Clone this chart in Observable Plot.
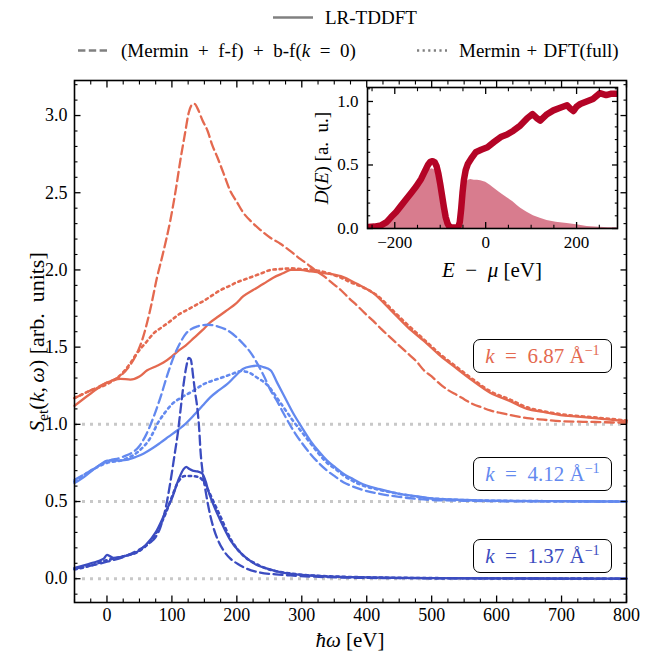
<!DOCTYPE html>
<html>
<head>
<meta charset="utf-8">
<script src="https://cdn.jsdelivr.net/npm/d3@7"></script>
<script src="https://cdn.jsdelivr.net/npm/@observablehq/plot@0.6"></script>
<style>
  body { margin: 0; background: #fff; }
  #wrap { position: relative; width: 653px; height: 654px; font-family: "Liberation Serif", "DejaVu Serif", serif; color: #000; overflow: hidden; }
  .abs { position: absolute; white-space: nowrap; line-height: 1; }
  .leg { display: flex; align-items: center; transform: translateY(-50%); font-size: 19px; }
  .leg svg { display: block; }
  .box { box-sizing: border-box; border: 1.5px solid #000; border-radius: 7px; background: #fff; display: flex; align-items: center; justify-content: center; font-size: 21px; }
  sup { font-size: 0.68em; vertical-align: 0.55em; line-height: 0; }
  sub { font-size: 0.7em; vertical-align: -0.25em; line-height: 0; }
  .rot { transform: translate(-50%, -50%) rotate(-90deg); }
  .ctr { transform: translate(-50%, -50%); }
</style>
</head>
<body>
<div id="wrap"></div>
<script>
// ---------------- data ----------------
// k = 1.37 Å^-1 (offset 0.0)
const k137_lr_x = [-50,-25,-5,0,5,10,20,30,45,60,75,90,100,110,118,122,127,132,139,147,152,156,163,170,180,190,203,216,230,247,265,287,310,339,370,400,450,500,600,700,800];
const k137_lr_y = [0.07,0.10,0.13,0.155,0.145,0.135,0.14,0.15,0.17,0.22,0.30,0.43,0.52,0.64,0.71,0.725,0.71,0.70,0.695,0.68,0.63,0.57,0.49,0.42,0.33,0.25,0.18,0.13,0.09,0.065,0.045,0.03,0.022,0.015,0.011,0.009,0.006,0.004,0.002,0.001,0.0];
const k137_mff_x = [-50,-25,0,25,50,65,75,82,90,98,104,109,114,118,122,126,129,133,136,139,142,144,147,151,157,164,172,180,190,201,215,236,260,287,320,360,400,500,600,800];
const k137_mff_y = [0.065,0.085,0.11,0.14,0.19,0.23,0.27,0.33,0.45,0.635,0.80,0.94,1.12,1.26,1.37,1.43,1.42,1.30,1.20,1.11,0.97,0.83,0.70,0.59,0.45,0.33,0.24,0.18,0.13,0.097,0.065,0.04,0.028,0.02,0.013,0.008,0.005,0.003,0.002,0.0];
const k137_dft_x = [-50,-25,0,10,25,50,75,90,100,110,120,130,140,147,155,165,175,190,210,230,250,280,320,360,400,500,600,800];
const k137_dft_y = [0.06,0.085,0.12,0.13,0.145,0.18,0.29,0.42,0.53,0.63,0.665,0.665,0.66,0.64,0.58,0.49,0.40,0.26,0.15,0.095,0.06,0.035,0.02,0.013,0.009,0.004,0.002,0.0];

// k = 4.12 Å^-1 (offset 0.5)
const k412_lr_x = [-50,-35,-20,-10,0,15,30,45,56,70,82,95,108,120,134,147,159,172,185,197,210,222,232,241,252,262,272,287,300,313,326,339,352,364,377,390,420,450,475,500,550,600,700,800];
const k412_lr_y = [0.62,0.66,0.71,0.74,0.765,0.765,0.77,0.79,0.81,0.845,0.88,0.92,0.96,1.0,1.06,1.12,1.175,1.22,1.26,1.31,1.36,1.375,1.38,1.37,1.35,1.27,1.19,1.07,0.98,0.895,0.825,0.765,0.72,0.68,0.65,0.62,0.58,0.55,0.535,0.52,0.51,0.505,0.502,0.50];
const k412_mff_x = [-50,-25,0,25,50,60,72,82,93,103,113,122,129,140,155,170,185,198,210,222,232,242,252,262,272,287,300,313,326,339,352,364,377,390,420,450,500,550,600,800];
const k412_mff_y = [0.64,0.70,0.76,0.79,0.86,0.93,1.05,1.17,1.32,1.44,1.53,1.59,1.615,1.635,1.645,1.635,1.61,1.57,1.52,1.46,1.39,1.31,1.22,1.15,1.07,0.96,0.88,0.81,0.75,0.70,0.66,0.625,0.60,0.58,0.55,0.53,0.51,0.505,0.502,0.50];
const k412_dft_x = [-50,-25,0,25,50,65,80,90,100,113,130,149,175,195,206,215,221,232,243,252,262,272,287,300,313,326,339,352,364,390,420,450,500,600,800];
const k412_dft_y = [0.63,0.70,0.75,0.77,0.83,0.90,1.02,1.08,1.13,1.17,1.21,1.26,1.30,1.33,1.345,1.34,1.33,1.30,1.27,1.23,1.17,1.11,1.02,0.95,0.88,0.81,0.75,0.71,0.67,0.61,0.575,0.55,0.52,0.505,0.50];

// k = 6.87 Å^-1 (offset 1.0)
const k687_lr_x = [-50,-25,0,21,36,50,62,75,87,100,108,121,134,147,159,172,185,198,210,225,241,256,272,283,298,314,334,360,385,410,437,463,488,513,539,564,590,621,647,672,698,725,751,775,800];
const k687_lr_y = [1.12,1.20,1.27,1.295,1.29,1.31,1.35,1.375,1.40,1.44,1.47,1.51,1.56,1.61,1.66,1.70,1.74,1.78,1.83,1.87,1.91,1.95,1.98,2.0,2.0,1.99,1.98,1.96,1.91,1.85,1.74,1.63,1.54,1.445,1.36,1.28,1.205,1.15,1.10,1.08,1.06,1.05,1.04,1.03,1.02];
const k687_mff_x = [-50,-25,0,21,35,45,56,67,77,87,98,106,113,120,126,131,135,139,147,155,162,170,180,190,200,210,223,236,251,267,283,298,308,320,334,347,360,372,385,397,410,423,437,450,463,476,488,500,513,526,539,551,564,577,590,605,621,647,672,700,751,800];
const k687_mff_y = [1.17,1.22,1.27,1.315,1.38,1.45,1.57,1.75,1.95,2.12,2.33,2.52,2.71,2.88,3.02,3.07,3.075,3.05,2.97,2.90,2.81,2.73,2.62,2.51,2.44,2.37,2.31,2.26,2.21,2.17,2.12,2.07,2.04,2.00,1.96,1.915,1.87,1.82,1.77,1.72,1.67,1.615,1.56,1.51,1.46,1.41,1.35,1.31,1.26,1.22,1.19,1.16,1.13,1.11,1.09,1.075,1.06,1.04,1.03,1.02,1.015,1.01];
const k687_dft_x = [-50,-25,0,21,35,46,60,72,85,98,110,123,136,149,162,175,188,200,213,226,239,252,265,283,300,318,340,360,375,390,416,442,463,488,513,539,564,590,621,647,672,700,750,800];
const k687_dft_y = [1.17,1.22,1.26,1.32,1.39,1.46,1.53,1.59,1.63,1.67,1.71,1.74,1.77,1.80,1.835,1.87,1.895,1.92,1.94,1.96,1.98,2.0,2.005,2.01,2.005,2.0,1.98,1.95,1.92,1.895,1.835,1.73,1.645,1.55,1.455,1.37,1.29,1.215,1.16,1.11,1.085,1.065,1.045,1.025];

const baselines = [0, 0.5, 1.0];
const xMajor = [0, 100, 200, 300, 400, 500, 600, 700, 800];
const xMinor = d3.range(-50, 801, 25).filter(v => v % 100 !== 0);
const yMajor = [0, 0.5, 1.0, 1.5, 2.0, 2.5, 3.0];
const yMinor = d3.range(-1, 33).map(v => v / 10).filter(v => Math.round(v * 10) % 5 !== 0);

// Inset: density of states
const dos_E = [-258,-245,-230,-218,-208,-197,-186,-175,-164,-153,-142,-134,-127,-122,-117,-112,-108,-104,-100,-96,-92,-88,-84,-80,-75,-65,-60,-57,-54,-51,-48,-44,-39,-30,-22,-10,4,18,33,47,61,76,92,103,112,120,135,149,164,179,186,193,200,208,222,236,251,265,275,289];
const dos_D = [0.012,0.015,0.025,0.05,0.09,0.13,0.18,0.23,0.28,0.33,0.39,0.45,0.50,0.525,0.53,0.52,0.49,0.43,0.35,0.26,0.17,0.09,0.04,0.015,0.008,0.008,0.012,0.05,0.15,0.28,0.38,0.46,0.51,0.56,0.60,0.62,0.64,0.68,0.72,0.74,0.77,0.81,0.87,0.90,0.87,0.85,0.90,0.93,0.95,0.97,0.945,0.925,0.96,0.98,1.00,1.02,1.065,1.05,1.06,1.06];
const occ_E = [-258,-240,-220,-200,-186,-175,-164,-153,-142,-134,-125,-118,-112,-106,-102,-98,-94,-90,-86,-80,-60,-55,-53,-51,-48,-44,-38,-33,-25,-18,-11,0,10,17,30,40,48,60,70,77,90,105,120,135,155,179,200,223,250,270,289];
const occ_D = [0,0.02,0.06,0.11,0.15,0.20,0.25,0.30,0.36,0.41,0.46,0.47,0.46,0.40,0.32,0.19,0.11,0.05,0.02,0,0,0,0.15,0.30,0.34,0.36,0.38,0.385,0.38,0.38,0.375,0.365,0.34,0.32,0.285,0.26,0.24,0.21,0.18,0.16,0.13,0.10,0.08,0.063,0.05,0.04,0.03,0.016,0.01,0.006,0.005];
const insetXMajor = [-200, 0, 200];
const insetXMinor = [-250, -150, -100, -50, 50, 100, 150, 250];
const insetYMajor = [0, 0.5, 1.0];
const insetYMinor = [0.1, 0.2, 0.3, 0.4, 0.6, 0.7, 0.8, 0.9, 1.1];

// ---------------- styling ----------------
const C137 = "#3b4cc0", C412 = "#6389ef", C687 = "#e4694f", CDOS = "#b40426";
const FONT = '"Liberation Serif", "DejaVu Serif", serif';
const DASH = "9,4.5", DOT = "2.4,3.8";
const pts = (xs, ys) => xs.map((x, i) => ({x, y: ys[i]}));

function curve(xs, ys, color, kind) {
  return Plot.line(pts(xs, ys), {
    x: "x", y: "y", stroke: color, curve: "monotone-x",
    strokeWidth: kind === "dot" ? 2.6 : 2.3,
    strokeDasharray: kind === "dash" ? DASH : kind === "dot" ? DOT : null
  });
}

function frameTicks(xs, ys, len, w) {
  return [
    Plot.axisX(xs, {anchor: "bottom", tickSize: len, insetBottom: len, fill: "none", label: null, strokeWidth: w}),
    Plot.axisX(xs, {anchor: "top", tickSize: len, insetTop: len, fill: "none", label: null, strokeWidth: w}),
    Plot.axisY(ys, {anchor: "left", tickSize: len, insetLeft: len, fill: "none", label: null, strokeWidth: w}),
    Plot.axisY(ys, {anchor: "right", tickSize: len, insetRight: len, fill: "none", label: null, strokeWidth: w})
  ];
}

const main = Plot.plot({
  width: 653, height: 654,
  marginLeft: 74, marginRight: 27, marginTop: 80, marginBottom: 52,
  x: {domain: [-50, 800]},
  y: {domain: [-0.154, 3.227]},
  style: {fontFamily: FONT, fontSize: "18px", background: "transparent", color: "black"},
  marks: [
    Plot.ruleY(baselines, {stroke: "#c8c8c8", strokeWidth: 3, strokeDasharray: "3,5"}),
    curve(k687_dft_x, k687_dft_y, C687, "dot"),
    curve(k687_mff_x, k687_mff_y, C687, "dash"),
    curve(k687_lr_x, k687_lr_y, C687, "solid"),
    curve(k412_dft_x, k412_dft_y, C412, "dot"),
    curve(k412_mff_x, k412_mff_y, C412, "dash"),
    curve(k412_lr_x, k412_lr_y, C412, "solid"),
    curve(k137_dft_x, k137_dft_y, C137, "dot"),
    curve(k137_mff_x, k137_mff_y, C137, "dash"),
    curve(k137_lr_x, k137_lr_y, C137, "solid"),
    Plot.frame({stroke: "black", strokeWidth: 1.6}),
    ...frameTicks(xMajor, yMajor, 6.5, 1.3),
    ...frameTicks(xMinor, yMinor, 3.5, 1.1),
    Plot.axisX(xMajor, {anchor: "bottom", tickSize: 0, tickPadding: 6, label: null, tickFormat: d3.format("d")}),
    Plot.axisY(yMajor, {anchor: "left", tickSize: 0, tickPadding: 7, label: null, tickFormat: d3.format(".1f")})
  ]
});

const inset = Plot.plot({
  width: 330, height: 210,
  marginLeft: 67, marginRight: 13, marginTop: 7, marginBottom: 62,
  x: {domain: [-260, 290]},
  y: {domain: [0, 1.11]},
  style: {fontFamily: FONT, fontSize: "17px", background: "transparent", color: "black"},
  marks: [
    Plot.frame({fill: "white", stroke: null}),
    Plot.areaY(pts(occ_E, occ_D), {x: "x", y: "y", fill: CDOS, fillOpacity: 0.52, curve: "linear"}),
    Plot.line(pts(dos_E, dos_D), {x: "x", y: "y", stroke: CDOS, strokeWidth: 6.5, strokeLinejoin: "round", clip: true}),
    Plot.frame({stroke: "black", strokeWidth: 1.6}),
    ...frameTicks(insetXMajor, insetYMajor, 6, 1.3),
    ...frameTicks(insetXMinor, insetYMinor, 3.2, 1.1),
    Plot.axisX(insetXMajor, {anchor: "bottom", tickSize: 0, tickPadding: 7, label: null, tickFormat: d3.format("d")}),
    Plot.axisY(insetYMajor, {anchor: "left", tickSize: 0, tickPadding: 9, label: null, tickFormat: d3.format(".1f")})
  ]
});

// ---------------- assemble page ----------------
const wrap = document.getElementById("wrap");
main.style.position = "absolute"; main.style.left = "0px"; main.style.top = "0px";
wrap.appendChild(main);
inset.style.position = "absolute"; inset.style.left = "300px"; inset.style.top = "80px";
wrap.appendChild(inset);

const handle = (w, dash) =>
  `<svg width="${w}" height="8"><line x1="0" x2="${w}" y1="4" y2="4" stroke="#808080" stroke-width="2.6" ${dash ? `stroke-dasharray="${dash}"` : ""}/></svg>`;

const overlays = `
  <div class="abs leg" style="left:273px; top:17px;">${handle(40)}<span style="margin-left:12px">LR-TDDFT</span></div>
  <div class="abs leg" style="left:78px; top:50px;">${handle(30, "7.4,3.4")}<span style="margin-left:13px">(Mermin&ensp;+&ensp;f-f)&ensp;+&ensp;b-f(<i>k</i>&ensp;=&ensp;0)</span></div>
  <div class="abs leg" style="left:417px; top:50px;">${handle(30, "2.2,3.4")}<span style="margin-left:12px">Mermin&#8196;+&#8196;DFT(full)</span></div>

  <div class="abs rot" style="left:37px; top:342px; font-size:22px;"><i>S</i><sub>et</sub>(<i>k</i>,&thinsp;<i>ω</i>) [arb.&ensp;units]</div>
  <div class="abs ctr" style="left:350px; top:640px; font-size:21px;"><i>ħω</i> [eV]</div>

  <div class="abs rot" style="left:321px; top:158px; font-size:19px;"><i>D</i>(<i>E</i>) [a.&ensp;u.]</div>
  <div class="abs ctr" style="left:492px; top:270px; font-size:21px;"><i>E</i>&ensp;−&ensp;<i>μ</i> [eV]</div>

  <div class="abs box" style="left:473px; top:339px; width:139px; height:34px; color:${C687};"><span><i>k</i>&ensp;=&ensp;6.87 Å<sup>−1</sup></span></div>
  <div class="abs box" style="left:473px; top:457px; width:139px; height:34px; color:${C412};"><span><i>k</i>&ensp;=&ensp;4.12 Å<sup>−1</sup></span></div>
  <div class="abs box" style="left:473px; top:539px; width:139px; height:34px; color:${C137};"><span><i>k</i>&ensp;=&ensp;1.37 Å<sup>−1</sup></span></div>
`;
wrap.insertAdjacentHTML("beforeend", overlays);
</script>
</body>
</html>
